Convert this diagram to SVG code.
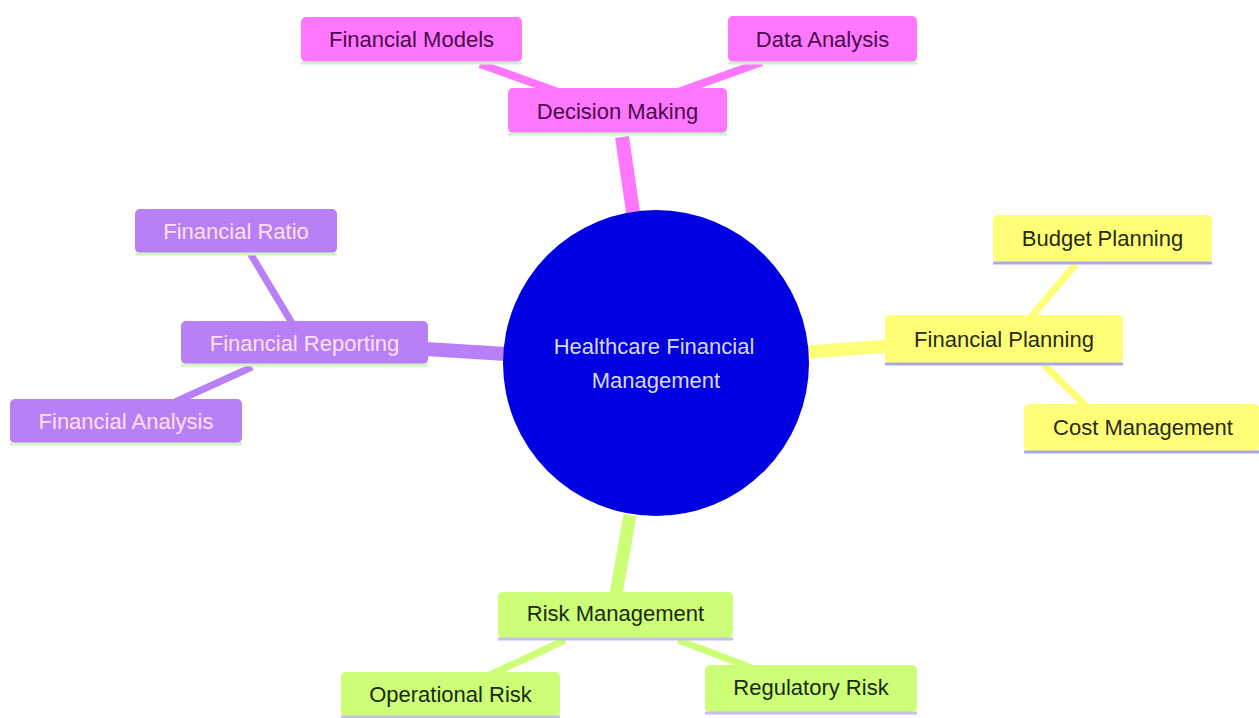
<svg xmlns="http://www.w3.org/2000/svg" width="1259" height="718" viewBox="0 0 1259 718">
<style>
text{font-family:"Liberation Sans",Arial,sans-serif;font-size:22px;text-anchor:middle;dominant-baseline:central}
.pink rect{fill:#ff77ff}.pink line{stroke:#c8f5c8}.pink text{fill:#4a0a4a}
.purp rect{fill:#b97ff6}.purp line{stroke:#d0f5c0}.purp text{fill:#ffe0f0}
.yel rect{fill:#ffff77}.yel line{stroke:#aaaaee}.yel text{fill:#2a2a10}
.grn rect{fill:#ccff77}.grn line{stroke:#c4c0ee}.grn text{fill:#1a2a10}
.n line{stroke-width:3}
.c{stroke-linecap:butt;fill:none}
</style>
<rect width="1259" height="718" fill="#ffffff"/>
<g id="connectors">
<line class="c" x1="622" y1="137" x2="633" y2="212" stroke="#ff77ff" stroke-width="14"/>
<line class="c" x1="808" y1="352" x2="888" y2="346" stroke="#ffff77" stroke-width="13"/>
<line class="c" x1="426" y1="349" x2="506" y2="354" stroke="#b97ff6" stroke-width="14"/>
<line class="c" x1="630" y1="515" x2="616" y2="594" stroke="#ccff77" stroke-width="13"/>
<line class="c" x1="480" y1="64" x2="558" y2="92" stroke="#ff77ff" stroke-width="8"/>
<line class="c" x1="762" y1="62" x2="678" y2="92" stroke="#ff77ff" stroke-width="8"/>
<line class="c" x1="1076" y1="264" x2="1030" y2="318" stroke="#ffff77" stroke-width="7"/>
<line class="c" x1="1044" y1="365" x2="1086" y2="406" stroke="#ffff77" stroke-width="7"/>
<line class="c" x1="250" y1="253" x2="292" y2="323" stroke="#b97ff6" stroke-width="7"/>
<line class="c" x1="252" y1="367" x2="175" y2="402" stroke="#b97ff6" stroke-width="7"/>
<line class="c" x1="565" y1="640" x2="490" y2="675" stroke="#ccff77" stroke-width="7"/>
<line class="c" x1="678" y1="640" x2="752" y2="668" stroke="#ccff77" stroke-width="7"/>
</g>
<g id="root">
<circle cx="656" cy="363" r="153" fill="#0000e0"/>
<text x="654" y="346" fill="#d8d8f4">Healthcare Financial</text>
<text x="656" y="380" fill="#d8d8f4">Management</text>
</g>
<g id="decision-making" class="n pink"><rect x="508" y="88" width="219" height="45" rx="5"/><line x1="508" y1="134" x2="727" y2="134"/><text x="617.5" y="111">Decision Making</text></g>
<g id="financial-models" class="n pink"><rect x="301" y="17" width="221" height="45" rx="5"/><line x1="301" y1="63" x2="522" y2="63"/><text x="411.5" y="39">Financial Models</text></g>
<g id="data-analysis" class="n pink"><rect x="728" y="16" width="189" height="46" rx="5"/><line x1="728" y1="63" x2="917" y2="63"/><text x="822.5" y="39">Data Analysis</text></g>
<g id="financial-planning" class="n yel"><rect x="885" y="315" width="238" height="48" rx="5"/><line x1="885" y1="364" x2="1123" y2="364"/><text x="1004" y="339">Financial Planning</text></g>
<g id="budget-planning" class="n yel"><rect x="993" y="215" width="219" height="47" rx="5"/><line x1="993" y1="263" x2="1212" y2="263"/><text x="1102.5" y="238">Budget Planning</text></g>
<g id="cost-management" class="n yel"><rect x="1024" y="404" width="235" height="47" rx="5"/><line x1="1024" y1="452" x2="1259" y2="452"/><text x="1143" y="427">Cost Management</text></g>
<g id="financial-reporting" class="n purp"><rect x="181" y="321" width="247" height="43" rx="5"/><line x1="181" y1="365" x2="428" y2="365"/><text x="304.5" y="343">Financial Reporting</text></g>
<g id="financial-ratio" class="n purp"><rect x="135" y="209" width="202" height="44" rx="5"/><line x1="135" y1="254" x2="337" y2="254"/><text x="236" y="231">Financial Ratio</text></g>
<g id="financial-analysis" class="n purp"><rect x="10" y="399" width="232" height="44" rx="5"/><line x1="10" y1="444" x2="242" y2="444"/><text x="126" y="421">Financial Analysis</text></g>
<g id="risk-management" class="n grn"><rect x="498" y="592" width="235" height="46" rx="5"/><line x1="498" y1="639" x2="733" y2="639"/><text x="615.5" y="613">Risk Management</text></g>
<g id="operational-risk" class="n grn"><rect x="341" y="672" width="219" height="45" rx="5"/><line x1="341" y1="717" x2="560" y2="717"/><text x="450.5" y="694">Operational Risk</text></g>
<g id="regulatory-risk" class="n grn"><rect x="705" y="665" width="212" height="47" rx="5"/><line x1="705" y1="713" x2="917" y2="713"/><text x="811" y="687">Regulatory Risk</text></g>
</svg>
